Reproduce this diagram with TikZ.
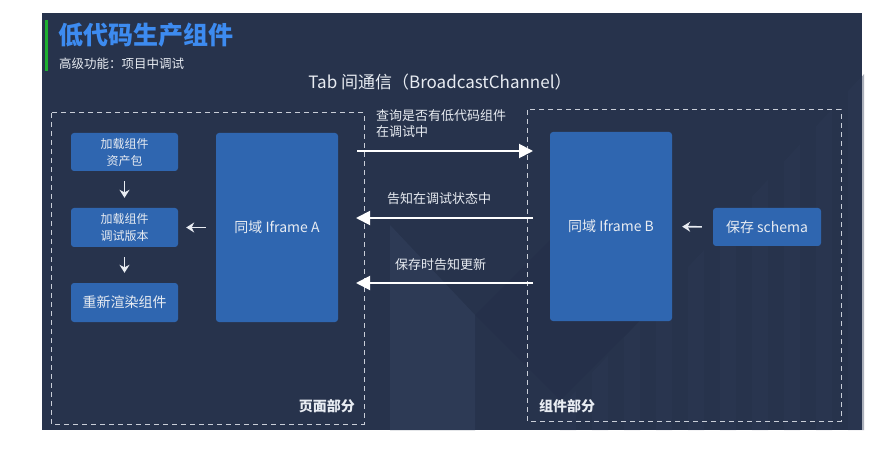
\documentclass[tikz,border=0pt]{standalone}
\usepackage{fontspec}
\setmainfont{Noto Sans CJK SC}
\usetikzlibrary{arrows.meta,calc}
\definecolor{bgdark}{HTML}{27334C}
\definecolor{bglight}{HTML}{2D3A55}
\definecolor{bgdarker}{HTML}{25304A}
\definecolor{boxblue}{HTML}{2F66B0}
\definecolor{titleblue}{HTML}{3D8BF0}
\definecolor{bargreen}{HTML}{1DAF30}
\definecolor{txt}{HTML}{E8ECF2}
\definecolor{dashc}{HTML}{C9CED8}
\tikzset{
  bluebox/.style={fill=boxblue, rounded corners=3pt, text=txt, align=center, inner sep=0pt},
  region/.style={draw=dashc, line width=1pt, dash pattern=on 5pt off 4pt},
  smallarrow/.style={draw=txt, line width=1.6pt, -{Stealth[length=8pt,width=10pt]}},
  bigarrow/.style={draw=white, line width=1.9pt, -{Triangle[length=14pt,width=14pt]}},
  lbl/.style={text=txt, font=\fontsize{13}{16}\selectfont, align=left, inner sep=0pt},
}
\begin{document}
\begin{tikzpicture}[x=1pt,y=-1pt]
\useasboundingbox (0,0) rectangle (891,462);
\fill[white] (0,0) rectangle (891,462);
% dark panel
\fill[bgdark] (42,13) rectangle (862,430);
% background decoration
\fill[bglight] (390,225) -- (475,315) -- (475,430) -- (390,430) -- cycle;
\fill[bgdarker] (475,315) -- (560,230) -- (640,320) -- (560,400) -- cycle;
\foreach \x in {560,592,624,656,688,720,752,784,816,848}{
  \pgfmathsetmacro{\ytop}{max(88, 430-(\x-540)*1.1)}
  \fill[bglight, opacity=0.4] (\x,\ytop) -- (\x+16,\ytop-17) -- (\x+16,430) -- (\x,430) -- cycle;
}
% title
\fill[bargreen] (45,20) rectangle (48,71);
\node[anchor=west, text=titleblue, font=\fontsize{25}{29}\selectfont\bfseries, inner sep=0pt] (title) at (58,35) {低代码生产组件};
\node[anchor=west, text=txt, font=\fontsize{12.5}{15}\selectfont, inner sep=0pt] (subtitle) at (59,64) {高级功能：项目中调试};
\node[text=txt, font=\fontsize{17}{20}\selectfont, inner sep=0pt] (tab) at (440,82) {Tab 间通信（BroadcastChannel）};
% regions
\draw[region] (51,113) rectangle (364,424);
\draw[region] (527,110) rectangle (841,421);
\node[anchor=east, text=txt, font=\fontsize{14}{16}\selectfont\bfseries, inner sep=0pt] (pageLbl) at (355,406) {页面部分};
\node[anchor=west, text=txt, font=\fontsize{14}{16}\selectfont\bfseries, inner sep=0pt] (compLbl) at (539,406) {组件部分};
% boxes
\node[bluebox, minimum width=107pt, minimum height=38pt, font=\fontsize{12}{17}\selectfont] (b1) at (124.5,152) {加载组件\\资产包};
\node[bluebox, minimum width=107pt, minimum height=39pt, font=\fontsize{12}{17}\selectfont] (b2) at (124.5,227.5) {加载组件\\调试版本};
\node[bluebox, minimum width=107pt, minimum height=39pt, font=\fontsize{14}{17}\selectfont] (b3) at (124.5,302.5) {重新渲染组件};
\node[bluebox, minimum width=122pt, minimum height=189pt, font=\fontsize{14}{17}\selectfont] (ifa) at (277,227.5) {同域 Iframe A};
\node[bluebox, minimum width=122pt, minimum height=189pt, font=\fontsize{14}{17}\selectfont] (ifb) at (611,226.5) {同域 Iframe B};
\node[bluebox, minimum width=108pt, minimum height=38pt, font=\fontsize{14}{17}\selectfont] (sch) at (767,227) {保存 schema};
% small arrows
\draw[smallarrow, shorten <=10pt, shorten >=10pt] (b1.south) -- (b2.north);
\draw[smallarrow, shorten <=10pt, shorten >=10pt] (b2.south) -- (b3.north);
\draw[smallarrow, shorten <=10pt, shorten >=8pt] (ifa.west) -- (b2.east);
\draw[smallarrow, shorten <=11pt, shorten >=10pt] (sch.west) -- (ifb.east);
% message arrows
\coordinate (m1s) at (357,151);
\coordinate (m1e) at (533,151);
\coordinate (m2s) at (533,218);
\coordinate (m2e) at (356,218);
\coordinate (m3s) at (533,283);
\coordinate (m3e) at (356,283);
\draw[bigarrow] (m1s) -- (m1e);
\draw[bigarrow] (m2s) -- (m2e);
\draw[bigarrow] (m3s) -- (m3e);
\node[lbl, anchor=north west] (l1) at (376,109) {查询是否有低代码组件\\在调试中};
\node[lbl, anchor=west] (l2) at (387,199) {告知在调试状态中};
\node[lbl, anchor=west] (l3) at (395,265) {保存时告知更新};
\end{tikzpicture}
\end{document}
